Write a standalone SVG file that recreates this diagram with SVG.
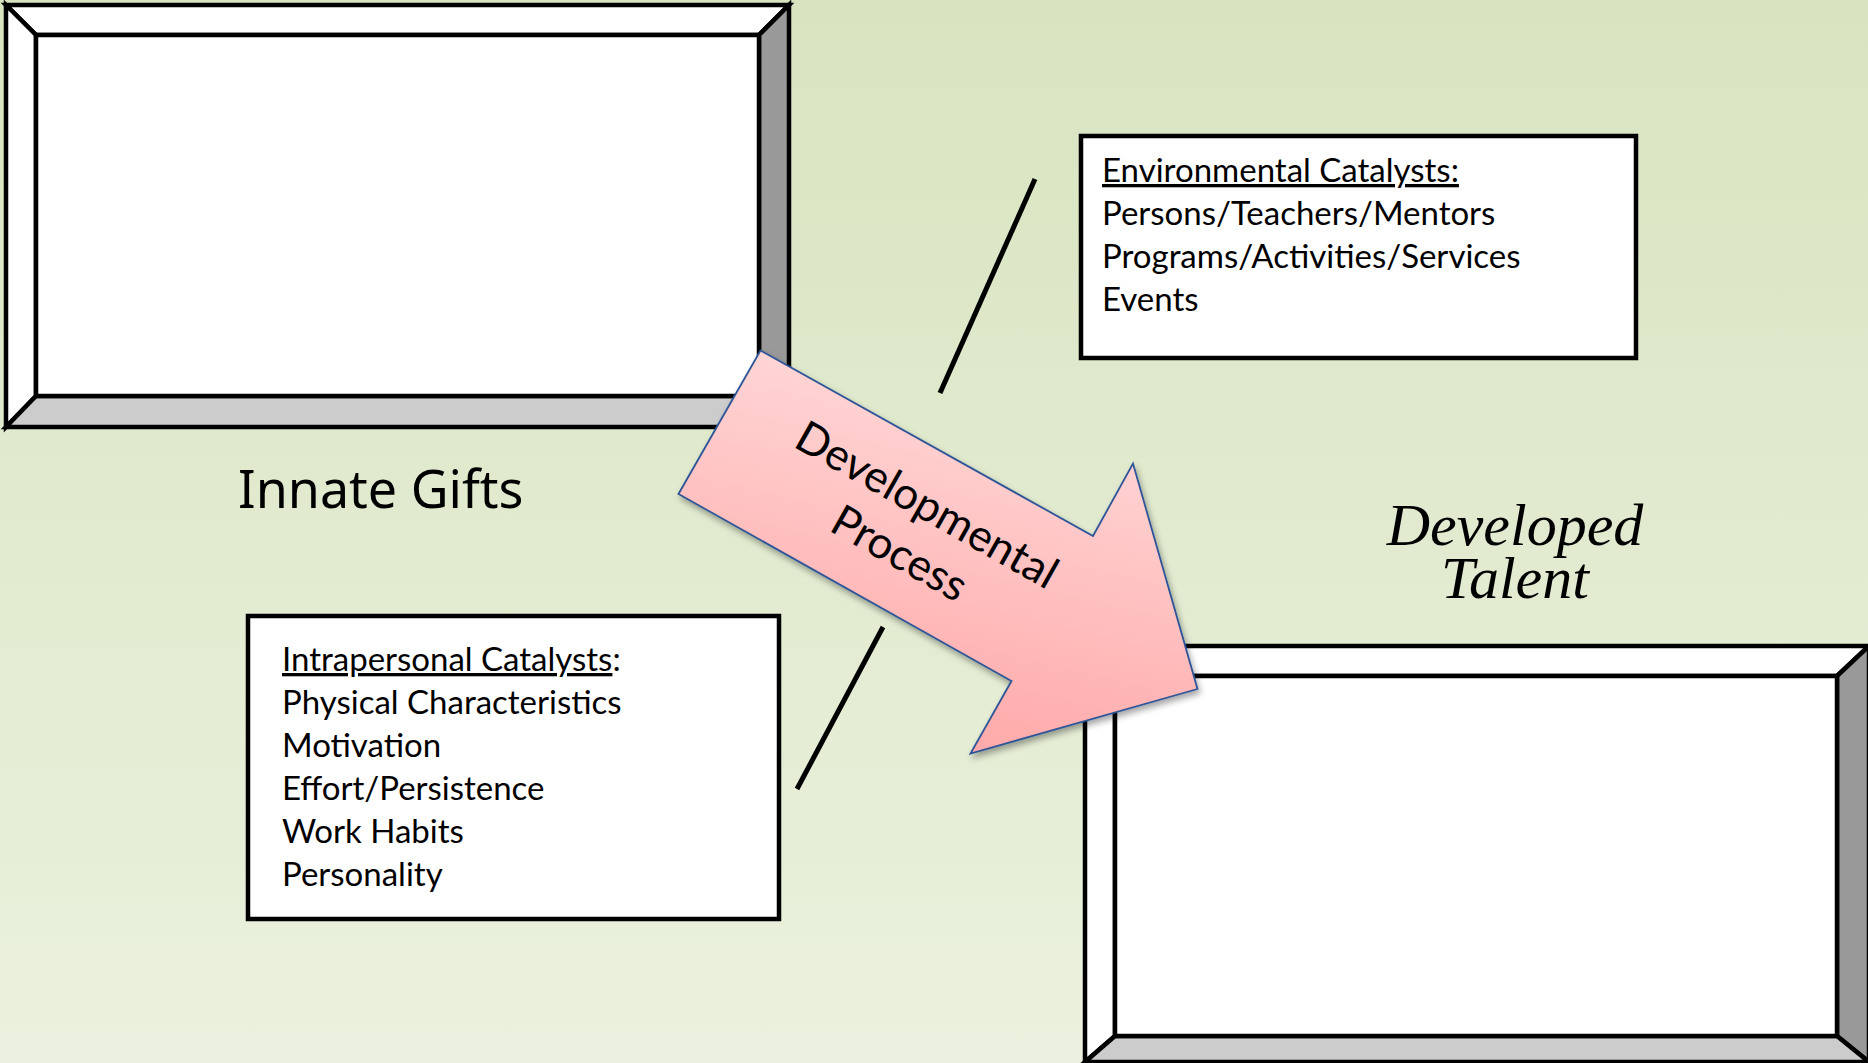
<svg xmlns="http://www.w3.org/2000/svg" width="1868" height="1063" viewBox="0 0 1868 1063">
  <defs>
    <linearGradient id="bgGrad" x1="0" y1="0" x2="0" y2="1">
      <stop offset="0" stop-color="#d8e4c0"/>
      <stop offset="1" stop-color="#ebf1de"/>
    </linearGradient>
    <linearGradient id="arrowGrad" x1="0.65" y1="0" x2="0.35" y2="1">
      <stop offset="0" stop-color="#ffdcdc"/>
      <stop offset="1" stop-color="#ffa6a6"/>
    </linearGradient>
    <filter id="shadow" x="-10%" y="-10%" width="120%" height="130%">
      <feDropShadow dx="2" dy="4" stdDeviation="3" flood-color="#000" flood-opacity="0.35"/>
    </filter>
    <style>
      .edge { stroke: #000; stroke-width: 4.5; stroke-linejoin: miter; }
      .light { fill: #ffffff; }
      .dark { fill: #999999; }
      .mid { fill: #cccccc; }
      .box { fill: #ffffff; stroke: #000; stroke-width: 4.5; }
      .body { font-family: Lato, "Open Sans", sans-serif; font-size: 33px; fill: #000; }
      .ul { text-decoration: underline; }
      .conn { stroke: #000; stroke-width: 5; fill: none; }
      .script { font-family: "Noto Sans", "DejaVu Sans", sans-serif; font-size: 52px; fill: #000; }
      .italic { font-family: "Liberation Serif", serif; font-style: italic; font-size: 60px; fill: #000; }
      .arrowtext { font-family: Lato, "Open Sans", sans-serif; font-size: 44px; fill: #000; }
    </style>
  </defs>

  <rect id="background" x="0" y="0" width="1868" height="1063" fill="url(#bgGrad)"/>

  <g id="frame-innate">
    <polygon class="light edge" points="6,5 789,5 759,35 36,35"/>
    <polygon class="light edge" points="6,5 36,35 36,396 6,427"/>
    <polygon class="dark edge" points="789,5 789,427 759,396 759,35"/>
    <polygon class="mid edge" points="6,427 36,396 759,396 789,427"/>
    <rect class="light edge" x="36" y="35" width="723" height="361"/>
  </g>

  <g id="label-innate">
    <text class="script" x="238" y="508">Innate Gifts</text>
  </g>

  <g id="frame-talent">
    <polygon class="light edge" points="1085,646 1869,646 1837,676 1115,676"/>
    <polygon class="light edge" points="1085,646 1115,676 1115,1036 1085,1062"/>
    <polygon class="dark edge" points="1869,646 1869,1062 1837,1036 1837,676"/>
    <polygon class="mid edge" points="1085,1062 1115,1036 1837,1036 1869,1062"/>
    <rect class="light edge" x="1115" y="676" width="722" height="360"/>
  </g>

  <g id="label-talent">
    <text class="italic" text-anchor="middle"><tspan x="1515" y="545">Developed</tspan><tspan x="1515" y="598">Talent</tspan></text>
  </g>

  <g id="connectors">
    <line class="conn" x1="1035" y1="179" x2="940" y2="393"/>
    <line class="conn" x1="883" y1="627" x2="797" y2="789"/>
  </g>

  <g id="env-catalysts">
    <rect class="box" x="1081" y="136" width="555" height="222"/>
    <text class="body" x="1102" y="182"><tspan class="ul">Environmental Catalysts:</tspan></text>
    <text class="body" x="1102" y="225">Persons/Teachers/Mentors</text>
    <text class="body" x="1102" y="268">Programs/Activities/Services</text>
    <text class="body" x="1102" y="311">Events</text>
  </g>

  <g id="intra-catalysts">
    <rect class="box" x="248" y="616" width="531" height="303"/>
    <text class="body" x="282" y="671"><tspan class="ul">Intrapersonal Catalysts</tspan>:</text>
    <text class="body" x="282" y="714">Physical Characteristics</text>
    <text class="body" x="282" y="757">Motivation</text>
    <text class="body" x="282" y="800">Effort/Persistence</text>
    <text class="body" x="282" y="843">Work Habits</text>
    <text class="body" x="282" y="886">Personality</text>
  </g>

  <g id="arrow-process">
    <polygon points="760.5,350.5 1093,536 1133,463.5 1197.5,689 970.5,753.5 1011.5,681 678.5,494" fill="url(#arrowGrad)" stroke="#2f5597" stroke-width="1.8" stroke-linejoin="miter" filter="url(#shadow)"/>
    <g transform="translate(906,542) rotate(29.5)">
      <text class="arrowtext" x="0" y="-27.5" text-anchor="middle">Developmental</text>
      <text class="arrowtext" x="0" y="28" text-anchor="middle">Process</text>
    </g>
  </g>
</svg>
